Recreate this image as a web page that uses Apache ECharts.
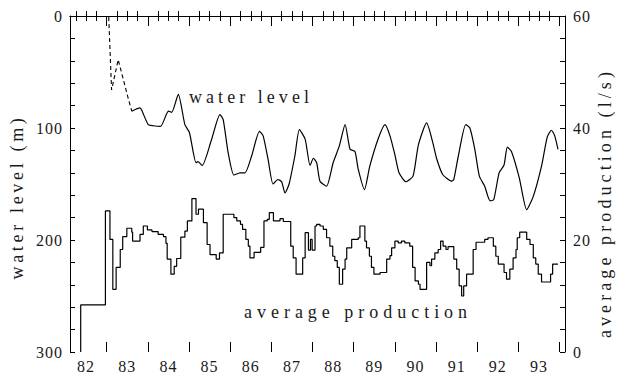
<!DOCTYPE html>
<html><head><meta charset="utf-8">
<script src="https://cdn.jsdelivr.net/npm/echarts@6/dist/echarts.min.js"></script>
<style>html,body{margin:0;padding:0;background:#fff}#c{width:618px;height:374px}
#c text{font-family:'Liberation Serif','Times New Roman',serif !important}</style>
</head><body><div id="c"></div>
<script>
// ---- data ----
const yearLabels = ['82','83','84','85','86','87','88','89','90','91','92','93'];
const leftTickLabels = ['0','100','200','300'];
const rightTickLabels = ['0','20','40','60'];

// water level (m), dashed early part
const dashTime  = [1983.05, 1983.12, 1983.28, 1983.52, 1983.61];
const dashValue = [1, 66, 39, 73, 85];

// water level (m), solid
const wlTime = [1983.61,1983.81,1983.85,1984.01,1984.13,1984.31,1984.50,1984.58,1984.74,1984.90,
 1985.01,1985.17,1985.22,1985.32,1985.55,1985.75,1985.83,1985.95,1986.09,1986.24,1986.36,1986.52,
 1986.71,1986.80,1986.92,1987.04,1987.16,1987.25,1987.33,1987.43,1987.57,1987.68,1987.82,1987.94,
 1988.02,1988.10,1988.18,1988.34,1988.50,1988.65,1988.79,1988.91,1989.03,1989.11,1989.26,1989.39,
 1989.60,1989.76,1989.88,1990.00,1990.10,1990.27,1990.44,1990.57,1990.77,1990.92,1991.01,1991.16,
 1991.38,1991.43,1991.54,1991.72,1991.82,1991.94,1992.05,1992.18,1992.31,1992.40,1992.53,1992.65,
 1992.73,1992.83,1993.02,1993.20,1993.36,1993.56,1993.70,1993.80,1993.88,1993.96];
const wlValue = [85,82,84,97,98,98.5,85,86,70,97,
 104,131,130,133.5,110,88,92.5,122,142,140,140,125,
 103,107,128,150,146,148,158,150,125,101.5,110,133.5,
 127,131,147.5,152,131,116,97,119,121,137,155,134,
 109,97,107,124,140,148,143,115,95.5,113,127,141.5,
 147.5,146,125,97,100,119,143,152,165,164,140,133,
 117,121,144.5,173,161,134,108,102,107,119];

// average production (l/s), step changes
const prodTime = [1982.37,1982.37,1982.97,1983.08,1983.15,1983.23,1983.33,1983.39,1983.49,1983.61,1983.63,
 1983.81,1983.89,1983.99,1984.10,1984.25,1984.38,1984.44,1984.47,1984.56,1984.64,1984.70,1984.80,1984.90,
 1984.96,1985.07,1985.17,1985.23,1985.35,1985.44,1985.51,1985.66,1985.74,1985.83,1986.09,1986.16,1986.25,
 1986.30,1986.38,1986.44,1986.48,1986.58,1986.74,1986.82,1986.90,1986.95,1987.05,1987.21,1987.29,1987.47,
 1987.53,1987.60,1987.76,1987.82,1987.90,1987.95,1987.99,1988.06,1988.10,1988.18,1988.26,1988.34,1988.42,
 1988.49,1988.54,1988.60,1988.65,1988.73,1988.79,1988.83,1988.95,1989.11,1989.15,1989.27,1989.31,1989.38,
 1989.43,1989.49,1989.64,1989.80,1989.88,1989.92,1990.00,1990.08,1990.16,1990.24,1990.36,1990.43,1990.49,
 1990.57,1990.61,1990.77,1990.85,1990.89,1990.97,1991.05,1991.11,1991.17,1991.24,1991.29,1991.43,1991.50,
 1991.56,1991.62,1991.67,1991.74,1991.90,1991.97,1992.18,1992.26,1992.39,1992.45,1992.51,1992.65,1992.71,
 1992.79,1992.87,1992.94,1992.97,1993.03,1993.20,1993.28,1993.36,1993.42,1993.48,1993.56,1993.78,1993.83,
 1993.96];
const prodValue = [0,8.4,25.2,20.1,11.2,15.1,18.3,20.6,22.1,21.4,19.8,
 21.0,22.5,21.8,21.5,21.0,20.6,19.4,16.6,13.9,15.3,16.7,20.5,21.6,
 23.4,27.4,24.6,25.5,23.1,19.2,17.4,16.6,17.7,24.6,24.0,23.4,22.8,
 21.9,20.1,18.9,16.8,17.8,18.7,23.4,23.7,24.9,23.4,23.8,23.3,18.9,
 16.8,13.9,16.8,21.3,18.2,20.1,18.2,22.5,22.8,22.5,21.9,20.4,18.9,
 17.1,16.3,15.1,12.1,14.8,16.6,18.6,20.1,20.4,22.5,19.8,18.6,17.1,
 15.1,13.9,14.2,16.6,17.2,18.6,19.8,19.5,19.8,19.5,18.9,15.1,12.7,
 12.1,11.2,16.0,15.4,16.6,17.7,18.3,19.8,18.9,18.3,18.8,16.6,14.8,
 11.8,10.0,11.8,13.9,18.3,19.6,20.1,20.4,18.9,17.1,15.7,14.2,13.0,
 14.8,16.8,18.3,20.4,21.4,20.1,19.2,16.8,15.7,13.9,12.5,13.9,15.7,
 15.7];

// ---- build ----
const XMIN = 1982.11, XMAX = 1994.13;
const zip = (a, b) => a.map((v, i) => [v, b[i]]);
const yearTicks = [], quarterTicks = [];
for (let y = 1982; y <= 1995; y++) {
  if (y > XMIN && y < XMAX) yearTicks.push(y);
  for (let q = 1; q < 4; q++) { const v = y + q * 0.25; if (v > XMIN && v < XMAX) quarterTicks.push(v); }
}
const labelVals = yearLabels.map(s => 1900 + Number(s) + 0.5);
const FONT = 'Liberation Serif';
const INK = '#1a1a1a';
const lineAx = { show: true, lineStyle: { color: '#000', width: 1 } };

function xAx(pos, ticks, len, withLabels, withLine) {
  return {
    type: 'value', position: pos, min: XMIN, max: XMAX, gridIndex: 0,
    axisLine: withLine ? lineAx : { show: false },
    axisTick: { show: true, inside: true, length: len, customValues: ticks, lineStyle: { color: '#000', width: 1 } },
    axisLabel: withLabels ? {
      show: true, customValues: labelVals, margin: 6, color: INK, fontFamily: FONT, fontSize: 16,
      formatter: v => yearLabels[Math.round(v - 0.5) - 1982]
    } : { show: false },
    splitLine: { show: false }
  };
}

const chart = echarts.init(document.getElementById('c'), null, { renderer: 'svg' });
chart.setOption({
  animation: false,
  backgroundColor: '#fff',
  grid: { left: 70, right: 53, top: 16, bottom: 21, containLabel: false },
  xAxis: [
    xAx('bottom', quarterTicks, 5, true, true),
    xAx('bottom', yearTicks, 10, false, false),
    xAx('top', quarterTicks, 5, false, true),
    xAx('top', yearTicks, 10, false, false)
  ],
  yAxis: [
    { type: 'value', position: 'left', inverse: true, min: 0, max: 300, interval: 20,
      axisLine: lineAx,
      axisTick: { show: true, inside: true, length: 5, lineStyle: { color: '#000' } },
      axisLabel: { color: INK, fontFamily: FONT, fontSize: 16, margin: 7,
        formatter: v => leftTickLabels.includes(String(v)) ? String(v) : '' },
      splitLine: { show: false } },
    { type: 'value', position: 'right', min: 0, max: 60, interval: 4,
      axisLine: lineAx,
      axisTick: { show: true, inside: true, length: 5, lineStyle: { color: '#000' } },
      axisLabel: { color: INK, fontFamily: FONT, fontSize: 16, margin: 8,
        formatter: v => rightTickLabels.includes(String(v)) ? String(v) : '' },
      splitLine: { show: false } }
  ],
  series: [
    { type: 'line', xAxisIndex: 0, yAxisIndex: 0, data: zip(dashTime, dashValue), symbol: 'none',
      lineStyle: { color: '#000', width: 1.1, type: [4, 3] } },
    { type: 'line', xAxisIndex: 0, yAxisIndex: 0, data: zip(wlTime, wlValue), symbol: 'none', smooth: 0.2,
      lineStyle: { color: '#000', width: 1.2 } },
    { type: 'line', xAxisIndex: 0, yAxisIndex: 1, data: zip(prodTime, prodValue), symbol: 'none', step: 'end',
      lineStyle: { color: '#000', width: 1.2 } }
  ],
  graphic: [
    { type: 'text', x: 17, y: 197, rotation: Math.PI / 2,
      style: { text: 'water level (m)', font: '18px ' + FONT, fill: INK, textAlign: 'center', textVerticalAlign: 'middle', align: 'center', verticalAlign: 'middle' } },
    { type: 'text', x: 605, y: 203, rotation: Math.PI / 2,
      style: { text: 'average production (l/s)', font: '18px ' + FONT, fill: INK, textAlign: 'center', textVerticalAlign: 'middle', align: 'center', verticalAlign: 'middle' } },
    { type: 'text', x: 189, y: 97,
      style: { text: 'water level', font: '18px ' + FONT, fill: INK, textAlign: 'left', textVerticalAlign: 'middle', align: 'left', verticalAlign: 'middle' } },
    { type: 'text', x: 244, y: 312,
      style: { text: 'average production', font: '18px ' + FONT, fill: INK, textAlign: 'left', textVerticalAlign: 'middle', align: 'left', verticalAlign: 'middle' } }
  ]
});
// widen the letter spacing of the texts to the tracking of the scanned original
const textTargets = { 'water level (m)': 165, 'average production (l/s)': 270, 'water level': 124, 'average production': 228 };
function spaceText() {
  document.querySelectorAll('#c text').forEach(t => {
    const s = t.textContent || '';
    t.style.letterSpacing = '0px';
    if (textTargets[s] && t.getComputedTextLength) {
      const nat = t.getComputedTextLength();
      const sp = Math.max(0, (textTargets[s] - nat) / s.length);
      t.style.letterSpacing = sp.toFixed(2) + 'px';
    } else {
      t.style.letterSpacing = '1px';
    }
  });
}
spaceText();
chart.on('finished', spaceText);
</script>
</body></html>
